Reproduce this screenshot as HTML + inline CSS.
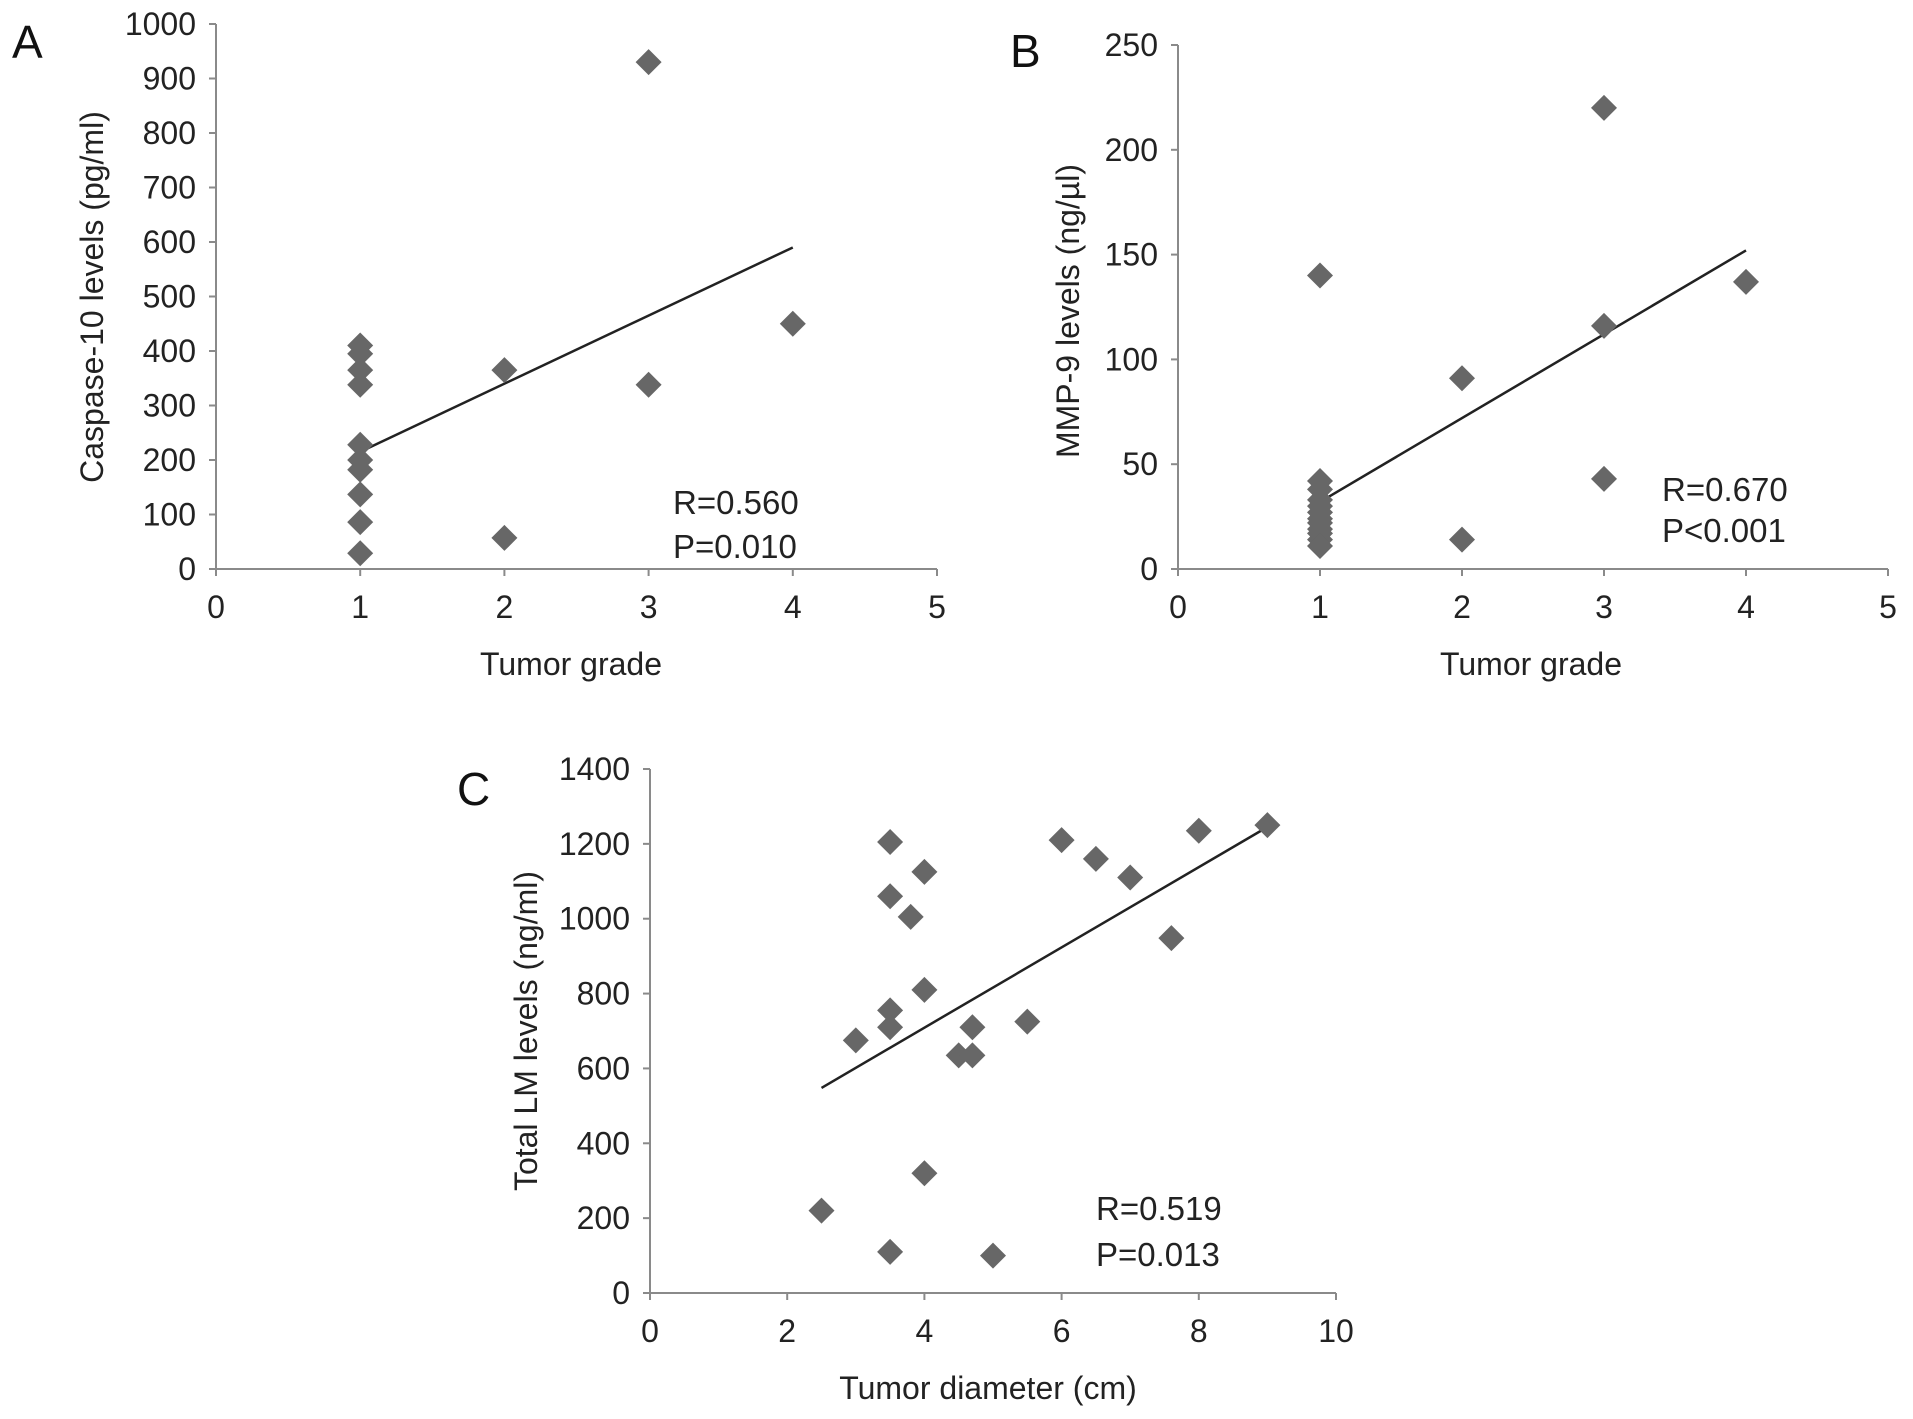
<!DOCTYPE html>
<html><head><meta charset="utf-8"><style>
html,body{margin:0;padding:0;background:#fff;}
svg{display:block;font-family:"Liberation Sans",Arial,sans-serif;}
</style></head><body>
<svg id="fig" width="1913" height="1419" viewBox="0 0 1913 1419"></svg>
<script>
// Panel A data
const aX = [1,1,1,1,1,1,1,1,1,1,2,2,3,3,4];
const aY = [410,395,365,338,228,200,182,137,86,29,365,57,930,338,450];
const aTrend = [[1,215],[4,590]];
const aYTicks = [0,100,200,300,400,500,600,700,800,900,1000];
const aXTicks = [0,1,2,3,4,5];
// Panel B data
const bX = [1,1,1,1,1,1,1,1,1,1,1,1,2,2,3,3,3,4];
const bY = [140,42,38,33,30,27,24,22,19,17,14,11,91,14,220,116,43,137];
const bTrend = [[1,32],[4,152]];
const bYTicks = [0,50,100,150,200,250];
const bXTicks = [0,1,2,3,4,5];
// Panel C data
const cX = [3.5,4,3.5,3.8,4,3.5,3.5,3,4.5,4.7,4.7,5.5,6,6.5,7,7.6,8,9,4,2.5,3.5,5];
const cY = [1205,1125,1060,1005,810,755,710,675,635,635,710,725,1210,1160,1110,948,1235,1250,320,220,110,100];
const cTrend = [[2.5,548],[9,1245]];
const cYTicks = [0,200,400,600,800,1000,1200,1400];
const cXTicks = [0,2,4,6,8,10];

const NS="http://www.w3.org/2000/svg";
const svg=document.getElementById('fig');
function mk(tag,attrs,parent){const e=document.createElementNS(NS,tag);for(const k in attrs)e.setAttribute(k,attrs[k]);(parent||svg).appendChild(e);return e;}
function txt(s,attrs,parent){const e=mk('text',attrs,parent);e.textContent=s;return e;}

function panel(cfg){
  const g=mk('g',{});
  
  
  const sx=v=>cfg.x0+(v-cfg.xmin)/(cfg.xmax-cfg.xmin)*(cfg.x1-cfg.x0);
  const sy=v=>cfg.y0-(v-cfg.ymin)/(cfg.ymax-cfg.ymin)*(cfg.y0-cfg.y1);
  const ax=mk('line',{x1:cfg.x0,y1:cfg.y1,x2:cfg.x0,y2:cfg.y0,stroke:'#8a8a8a','stroke-width':2},g);
  
  const ax2=mk('line',{x1:cfg.x0-6,y1:cfg.y0,x2:cfg.x1,y2:cfg.y0,stroke:'#8a8a8a','stroke-width':2},g);
  
  cfg.yt.forEach(v=>{
    const y=sy(v);
    mk('line',{x1:cfg.x0-7,y1:y,x2:cfg.x0,y2:y,stroke:'#8a8a8a','stroke-width':2},g);
    const t=txt(String(v),{x:cfg.x0-20,y:y+11,'text-anchor':'end','font-size':32,fill:'#222'},g);
    
  });
  cfg.xt.forEach(v=>{
    const x=sx(v);
    mk('line',{x1:x,y1:cfg.y0,x2:x,y2:cfg.y0+7,stroke:'#8a8a8a','stroke-width':2},g);
    const t=txt(String(v),{x:x,y:cfg.y0+49,'text-anchor':'middle','font-size':32,fill:'#222'},g);
    
  });
  const tl=mk('line',{x1:sx(cfg.tr[0][0]),y1:sy(cfg.tr[0][1]),x2:sx(cfg.tr[1][0]),y2:sy(cfg.tr[1][1]),stroke:'#222','stroke-width':2.5},g);
  
  const r=13;
  cfg.xs.forEach((xv,i)=>{
    const x=sx(xv),y=sy(cfg.ys[i]);
    const p=mk('polygon',{points:`${x},${y-r} ${x+r},${y} ${x},${y+r} ${x-r},${y}`,fill:'#676767'},g);
    
  });
  const yt=txt(cfg.ytitle,{x:0,y:0,'text-anchor':'middle','font-size':32,fill:'#222',transform:`translate(${cfg.ytx},${cfg.yty}) rotate(-90)`},g);
  
  const xt=txt(cfg.xtitle,{x:cfg.xtx,y:cfg.xty,'text-anchor':'middle','font-size':32,fill:'#222'},g);
  
  const s1=txt(cfg.s1,{x:cfg.sx,y:cfg.sy1,'font-size':33,fill:'#222'},g);
  
  const s2=txt(cfg.s2,{x:cfg.sx,y:cfg.sy2,'font-size':33,fill:'#222'},g);
  
  const L=txt(cfg.letter,{x:cfg.lx,y:cfg.ly,'font-size':46,fill:'#111'},g);
  
}

panel({name:'panel-a',x0:216,x1:937,y0:569,y1:24,xmin:0,xmax:5,ymin:0,ymax:1000,xs:aX,ys:aY,tr:aTrend,yt:aYTicks,xt:aXTicks,
  ytitle:'Caspase-10 levels (pg/ml)',ytx:103,yty:297,xtitle:'Tumor grade',xtx:571,xty:675,s1:'R=0.560',s2:'P=0.010',sx:673,sy1:514,sy2:558,letter:'A',lx:12,ly:58});
panel({name:'panel-b',x0:1178,x1:1888,y0:569,y1:45,xmin:0,xmax:5,ymin:0,ymax:250,xs:bX,ys:bY,tr:bTrend,yt:bYTicks,xt:bXTicks,
  ytitle:'MMP-9 levels (ng/µl)',ytx:1079,yty:311,xtitle:'Tumor grade',xtx:1531,xty:675,s1:'R=0.670',s2:'P<0.001',sx:1662,sy1:501,sy2:542,letter:'B',lx:1010,ly:67});
panel({name:'panel-c',x0:650,x1:1336,y0:1293,y1:769,xmin:0,xmax:10,ymin:0,ymax:1400,xs:cX,ys:cY,tr:cTrend,yt:cYTicks,xt:cXTicks,
  ytitle:'Total LM levels (ng/ml)',ytx:537,yty:1031,xtitle:'Tumor diameter (cm)',xtx:988,xty:1399,s1:'R=0.519',s2:'P=0.013',sx:1096,sy1:1220,sy2:1266,letter:'C',lx:457,ly:805});
</script>
</body></html>
